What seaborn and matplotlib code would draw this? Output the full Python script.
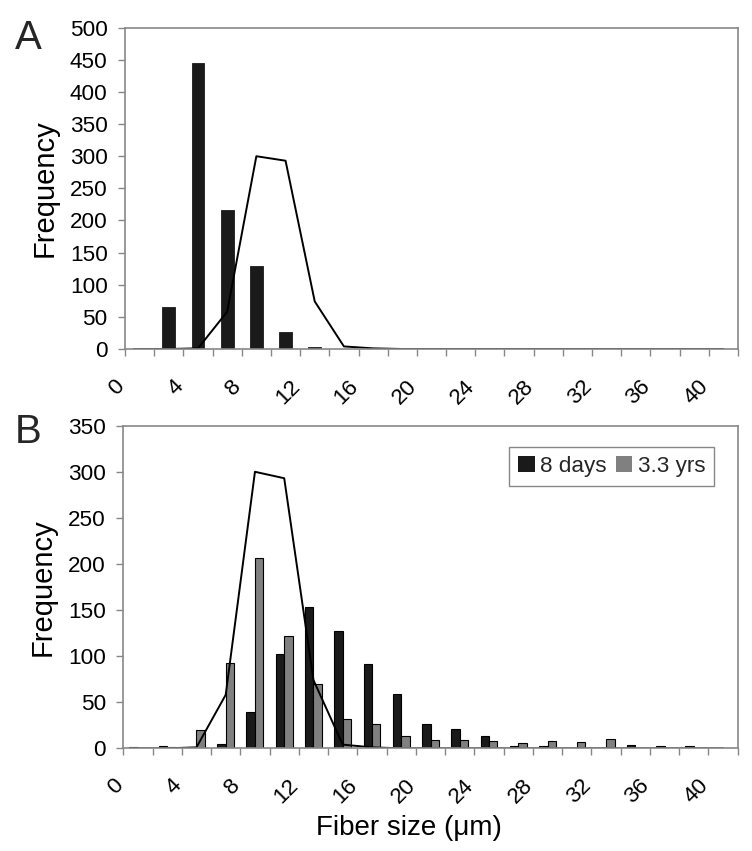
import numpy as np
import pandas as pd
import matplotlib
matplotlib.use("Agg")
import matplotlib.pyplot as plt
import seaborn as sns
from matplotlib.transforms import ScaledTranslation

# ---------------- data ----------------
bins = list(range(0, 41, 2))                      # fiber size categories (um)
label_pos = list(range(0, 41, 4))
label_text = [str(v) for v in label_pos]

panel_a_counts = [2, 66, 445, 216, 129, 27, 3, 0, 0, 0, 0,
                  0, 0, 0, 0, 0, 0, 0, 0, 0, 0]
ref_line = [0, 0, 1, 58, 300, 293, 74, 4, 1, 0, 0,
            0, 0, 0, 0, 0, 0, 0, 0, 0, 0]
b_8days = [1, 3, 1, 5, 39, 102, 153, 127, 92, 59, 26,
           21, 13, 3, 2, 0, 0, 4, 2, 3, 0]
b_33yrs = [0, 1, 20, 93, 207, 122, 70, 32, 26, 13, 9,
           9, 8, 6, 8, 7, 10, 0, 0, 0, 0]
series_names = ["8 days", "3.3 yrs"]

DARK = "#1a1a1a"
GRAY = "#808080"
SPINE = "#878787"

sns.set_theme(style="ticks")
plt.rcParams["font.family"] = ["Liberation Sans", "DejaVu Sans"]

W, H = 752, 851
fig = plt.figure(figsize=(W / 100, H / 100), dpi=100)
axA = fig.add_axes([125 / W, 1 - 349 / H, 613 / W, 321.3 / H])
axB = fig.add_axes([123.3 / W, 1 - 748.3 / H, 614.4 / W, 322.6 / H])

# ---------------- panel A ----------------
dfA = pd.DataFrame({"size": bins, "count": panel_a_counts})
sns.barplot(data=dfA, x="size", y="count", native_scale=True, width=0.44,
            color=DARK, saturation=1, edgecolor=DARK, linewidth=0.6,
            errorbar=None, ax=axA)
sns.lineplot(x=bins, y=ref_line, color="black", linewidth=1.4,
             legend=False, ax=axA)

# ---------------- panel B ----------------
dfB = pd.DataFrame({
    "size": bins * 2,
    "count": b_8days + b_33yrs,
    "series": [series_names[0]] * len(bins) + [series_names[1]] * len(bins),
})
sns.barplot(data=dfB, x="size", y="count", hue="series", hue_order=series_names,
            palette={series_names[0]: DARK, series_names[1]: GRAY},
            native_scale=True, width=0.58, gap=0, dodge=True, saturation=1,
            edgecolor="black", linewidth=0.8, errorbar=None, ax=axB)
sns.lineplot(x=bins, y=ref_line, color="black", linewidth=1.4,
             legend=False, ax=axB)

TICKFS = 16.2


def style(ax, ymax):
    ax.set_xlim(-1, 41)
    ax.set_ylim(0, ymax)
    ax.set_yticks(np.arange(0, ymax + 1, 50))
    ax.set_xticks(label_pos, labels=label_text)
    ax.set_xticks(np.arange(-1, 42, 2), minor=True)
    ax.tick_params(axis="x", which="major", length=0, pad=24.5, labelsize=TICKFS,
                   labelcolor="black")
    ax.tick_params(axis="x", which="minor", length=5, width=1, color=SPINE,
                   direction="out", bottom=True)
    ax.tick_params(axis="y", which="major", length=5, width=1, color=SPINE,
                   direction="out", left=True, pad=7.5, labelsize=TICKFS,
                   labelcolor="black")
    for s in ax.spines.values():
        s.set_visible(True)
        s.set_color(SPINE)
        s.set_linewidth(1.2)
    ax.set_ylabel("Frequency", fontsize=21, labelpad=8.0, color="black")
    ax.set_xlabel("")
    off = ScaledTranslation(-0.18, 0, fig.dpi_scale_trans)
    for lbl in ax.get_xticklabels():
        lbl.set_rotation(45)
        lbl.set_ha("right")
        lbl.set_va("center")
        lbl.set_rotation_mode("anchor")
        lbl.set_transform(lbl.get_transform() + off)


style(axA, 500)
style(axB, 350)

axB.set_xlabel("Fiber size (\u03bcm)", fontsize=20, color="black")
axB.xaxis.set_label_coords(0.465, -0.2055)

sns.move_legend(axB, "upper right", bbox_to_anchor=(0.962, 0.933),
                borderaxespad=0, ncol=2, title=None, frameon=True,
                fontsize=TICKFS, handlelength=0.72, handleheight=0.72,
                handletextpad=0.25, columnspacing=0.4, borderpad=0.4,
                fancybox=False, edgecolor=SPINE, framealpha=1)
leg = axB.get_legend()
leg.get_frame().set_linewidth(1.0)
for h in leg.legend_handles:
    h.set_edgecolor("none")

fig.text(15 / W, 1 - 49 / H, "A", fontsize=29, va="baseline", ha="left")
fig.text(15 / W, 1 - 443 / H, "B", fontsize=29, va="baseline", ha="left")

fig.savefig("out.png", dpi=100, facecolor="white")
